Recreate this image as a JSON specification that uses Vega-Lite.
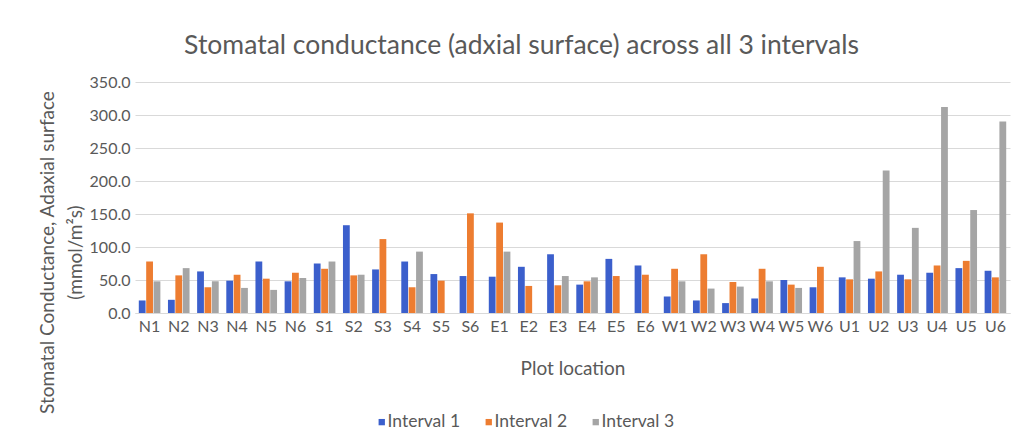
{
  "$schema": "https://vega.github.io/schema/vega-lite/v6.json",
  "autosize": "none",
  "width": 875,
  "height": 231,
  "padding": {"left": 135, "top": 82, "right": 13, "bottom": 135},
  "background": "white",
  "title": {
    "text": "Stomatal conductance (adxial surface) across all 3 intervals",
    "font": "Lato",
    "fontSize": 26.5,
    "fontWeight": "normal",
    "color": "#595959",
    "frame": "group",
    "anchor": "middle",
    "dx": -51,
    "offset": 15
  },
  "data": {
    "values": [
      {"loc": "N1", "interval": "Interval 1", "value": 19},
      {"loc": "N1", "interval": "Interval 2", "value": 78},
      {"loc": "N1", "interval": "Interval 3", "value": 48},
      {"loc": "N2", "interval": "Interval 1", "value": 20},
      {"loc": "N2", "interval": "Interval 2", "value": 57},
      {"loc": "N2", "interval": "Interval 3", "value": 68},
      {"loc": "N3", "interval": "Interval 1", "value": 63},
      {"loc": "N3", "interval": "Interval 2", "value": 39},
      {"loc": "N3", "interval": "Interval 3", "value": 48},
      {"loc": "N4", "interval": "Interval 1", "value": 49},
      {"loc": "N4", "interval": "Interval 2", "value": 58},
      {"loc": "N4", "interval": "Interval 3", "value": 38},
      {"loc": "N5", "interval": "Interval 1", "value": 78},
      {"loc": "N5", "interval": "Interval 2", "value": 52},
      {"loc": "N5", "interval": "Interval 3", "value": 35},
      {"loc": "N6", "interval": "Interval 1", "value": 48},
      {"loc": "N6", "interval": "Interval 2", "value": 61},
      {"loc": "N6", "interval": "Interval 3", "value": 53},
      {"loc": "S1", "interval": "Interval 1", "value": 75},
      {"loc": "S1", "interval": "Interval 2", "value": 67},
      {"loc": "S1", "interval": "Interval 3", "value": 78},
      {"loc": "S2", "interval": "Interval 1", "value": 133},
      {"loc": "S2", "interval": "Interval 2", "value": 57},
      {"loc": "S2", "interval": "Interval 3", "value": 58},
      {"loc": "S3", "interval": "Interval 1", "value": 66},
      {"loc": "S3", "interval": "Interval 2", "value": 112},
      {"loc": "S4", "interval": "Interval 1", "value": 78},
      {"loc": "S4", "interval": "Interval 2", "value": 39},
      {"loc": "S4", "interval": "Interval 3", "value": 93},
      {"loc": "S5", "interval": "Interval 1", "value": 59},
      {"loc": "S5", "interval": "Interval 2", "value": 49},
      {"loc": "S6", "interval": "Interval 1", "value": 56},
      {"loc": "S6", "interval": "Interval 2", "value": 151},
      {"loc": "E1", "interval": "Interval 1", "value": 55},
      {"loc": "E1", "interval": "Interval 2", "value": 137},
      {"loc": "E1", "interval": "Interval 3", "value": 93},
      {"loc": "E2", "interval": "Interval 1", "value": 70},
      {"loc": "E2", "interval": "Interval 2", "value": 41},
      {"loc": "E3", "interval": "Interval 1", "value": 89},
      {"loc": "E3", "interval": "Interval 2", "value": 42},
      {"loc": "E3", "interval": "Interval 3", "value": 56},
      {"loc": "E4", "interval": "Interval 1", "value": 43},
      {"loc": "E4", "interval": "Interval 2", "value": 48},
      {"loc": "E4", "interval": "Interval 3", "value": 54},
      {"loc": "E5", "interval": "Interval 1", "value": 82},
      {"loc": "E5", "interval": "Interval 2", "value": 56},
      {"loc": "E6", "interval": "Interval 1", "value": 72},
      {"loc": "E6", "interval": "Interval 2", "value": 58},
      {"loc": "W1", "interval": "Interval 1", "value": 25},
      {"loc": "W1", "interval": "Interval 2", "value": 67},
      {"loc": "W1", "interval": "Interval 3", "value": 48},
      {"loc": "W2", "interval": "Interval 1", "value": 19},
      {"loc": "W2", "interval": "Interval 2", "value": 89},
      {"loc": "W2", "interval": "Interval 3", "value": 37},
      {"loc": "W3", "interval": "Interval 1", "value": 15},
      {"loc": "W3", "interval": "Interval 2", "value": 47},
      {"loc": "W3", "interval": "Interval 3", "value": 40},
      {"loc": "W4", "interval": "Interval 1", "value": 22},
      {"loc": "W4", "interval": "Interval 2", "value": 67},
      {"loc": "W4", "interval": "Interval 3", "value": 48},
      {"loc": "W5", "interval": "Interval 1", "value": 50},
      {"loc": "W5", "interval": "Interval 2", "value": 43},
      {"loc": "W5", "interval": "Interval 3", "value": 38},
      {"loc": "W6", "interval": "Interval 1", "value": 39},
      {"loc": "W6", "interval": "Interval 2", "value": 70},
      {"loc": "U1", "interval": "Interval 1", "value": 54},
      {"loc": "U1", "interval": "Interval 2", "value": 51},
      {"loc": "U1", "interval": "Interval 3", "value": 109},
      {"loc": "U2", "interval": "Interval 1", "value": 52},
      {"loc": "U2", "interval": "Interval 2", "value": 63},
      {"loc": "U2", "interval": "Interval 3", "value": 216},
      {"loc": "U3", "interval": "Interval 1", "value": 58},
      {"loc": "U3", "interval": "Interval 2", "value": 51},
      {"loc": "U3", "interval": "Interval 3", "value": 129},
      {"loc": "U4", "interval": "Interval 1", "value": 61},
      {"loc": "U4", "interval": "Interval 2", "value": 72},
      {"loc": "U4", "interval": "Interval 3", "value": 312},
      {"loc": "U5", "interval": "Interval 1", "value": 68},
      {"loc": "U5", "interval": "Interval 2", "value": 79},
      {"loc": "U5", "interval": "Interval 3", "value": 156},
      {"loc": "U6", "interval": "Interval 1", "value": 64},
      {"loc": "U6", "interval": "Interval 2", "value": 54},
      {"loc": "U6", "interval": "Interval 3", "value": 290}
    ]
  },
  "layer": [
    {
      "mark": {"type": "bar"},
      "encoding": {
        "x": {
          "field": "loc",
          "type": "nominal",
          "sort": null,
          "scale": {"paddingInner": 0.26, "paddingOuter": 0.13},
          "axis": {
            "title": "Plot location",
            "titleFont": "Lato",
            "titleFontSize": 19,
            "titleFontWeight": "normal",
            "titleColor": "#595959",
            "titlePadding": 25,
            "labelAngle": 0,
            "labelFont": "Lato",
            "labelFontSize": 16,
            "labelColor": "#595959",
            "labelPadding": 5,
            "ticks": false,
            "domainColor": "#d9d9d9",
            "grid": false
          }
        },
        "xOffset": {"field": "interval", "type": "nominal", "scale": {"paddingInner": 0.08}},
        "y": {
          "field": "value",
          "type": "quantitative",
          "scale": {"domain": [0, 350]},
          "axis": {
            "title": "(mmol/m²s)",
            "titleFont": "Lato",
            "titleFontSize": 19,
            "titleFontWeight": "normal",
            "titleColor": "#595959",
            "titleY": 170,
            "titlePadding": 4,
            "values": [0, 50, 100, 150, 200, 250, 300, 350],
            "format": ".1f",
            "labelFont": "Lato",
            "labelFontSize": 16,
            "labelColor": "#595959",
            "labelPadding": 5,
            "ticks": false,
            "domain": false,
            "gridColor": "#d9d9d9"
          }
        },
        "color": {
          "field": "interval",
          "type": "nominal",
          "scale": {"range": ["#3B5FCC", "#ED7D31", "#A5A5A5"]},
          "legend": {
            "title": null,
            "orient": "none",
            "direction": "horizontal",
            "legendX": 238,
            "legendY": 331,
            "symbolType": "square",
            "symbolSize": 40,
            "labelFont": "Lato",
            "labelFontSize": 17.5,
            "labelColor": "#595959",
            "labelOffset": -3,
            "columnPadding": 19
          }
        }
      }
    },
    {
      "mark": {"type": "rule", "opacity": 0},
      "encoding": {
        "y": {
          "datum": 0,
          "type": "quantitative",
          "axis": {
            "orient": "left",
            "offset": 78,
            "title": "Stomatal Conductance, Adaxial surface",
            "titleFont": "Lato",
            "titleFontSize": 19,
            "titleFontWeight": "normal",
            "titleColor": "#595959",
            "titleY": 170,
            "labels": false,
            "ticks": false,
            "domain": false,
            "grid": false,
            "titlePadding": 0
          }
        }
      }
    }
  ],
  "resolve": {"axis": {"y": "independent"}},
  "config": {
    "view": {"stroke": null}
  }
}
